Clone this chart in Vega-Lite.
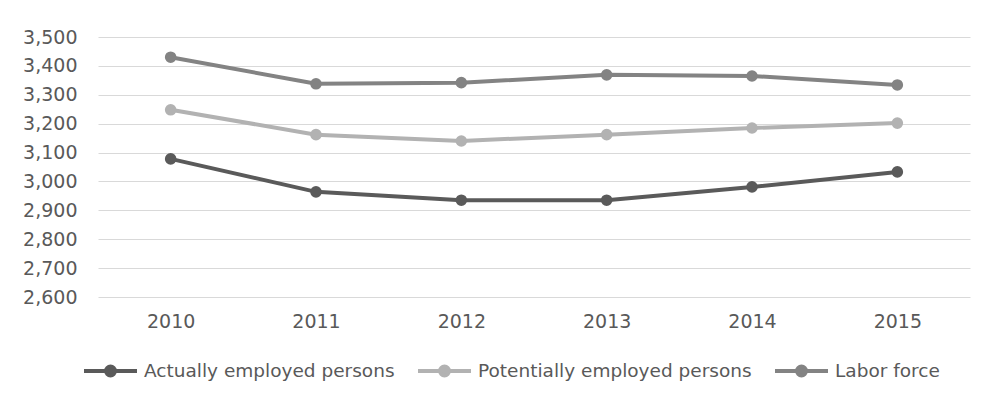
{
  "$schema": "https://vega.github.io/schema/vega-lite/v6.json",
  "autosize": "none",
  "width": 872,
  "height": 260,
  "padding": {"left": 98, "top": 37, "right": 14, "bottom": 97},
  "background": "white",
  "data": {"values": [
    {"year": "2010", "series": "Actually employed persons", "value": 3078},
    {"year": "2011", "series": "Actually employed persons", "value": 2964},
    {"year": "2012", "series": "Actually employed persons", "value": 2935},
    {"year": "2013", "series": "Actually employed persons", "value": 2935},
    {"year": "2014", "series": "Actually employed persons", "value": 2981},
    {"year": "2015", "series": "Actually employed persons", "value": 3033},
    {"year": "2010", "series": "Potentially employed persons", "value": 3248},
    {"year": "2011", "series": "Potentially employed persons", "value": 3162},
    {"year": "2012", "series": "Potentially employed persons", "value": 3140},
    {"year": "2013", "series": "Potentially employed persons", "value": 3162},
    {"year": "2014", "series": "Potentially employed persons", "value": 3185},
    {"year": "2015", "series": "Potentially employed persons", "value": 3202},
    {"year": "2010", "series": "Labor force", "value": 3430},
    {"year": "2011", "series": "Labor force", "value": 3338},
    {"year": "2012", "series": "Labor force", "value": 3342},
    {"year": "2013", "series": "Labor force", "value": 3369},
    {"year": "2014", "series": "Labor force", "value": 3365},
    {"year": "2015", "series": "Labor force", "value": 3334}
  ]},
  "mark": {"type": "line", "strokeWidth": 4, "point": {"filled": true, "size": 135, "opacity": 1}},
  "encoding": {
    "x": {"field": "year", "type": "ordinal", "scale": {"paddingInner": 0, "paddingOuter": 0.5},
      "axis": {"title": null, "labelAngle": 0, "ticks": false, "domain": false, "labelPadding": 15, "labelFont": "DejaVu Sans", "labelFontSize": 19, "labelColor": "#595959"}},
    "y": {"field": "value", "type": "quantitative", "scale": {"domain": [2600, 3500], "zero": false, "nice": false},
      "axis": {"title": null, "values": [2600, 2700, 2800, 2900, 3000, 3100, 3200, 3300, 3400, 3500], "format": ",.0f", "ticks": false, "domain": false, "labelPadding": 21, "labelFont": "DejaVu Sans", "labelFontSize": 19, "labelColor": "#595959", "gridColor": "#d9d9d9", "gridWidth": 1}},
    "color": {"field": "series", "type": "nominal",
      "scale": {"domain": ["Actually employed persons", "Potentially employed persons", "Labor force"], "range": ["#5a5a5a", "#b2b2b2", "#838383"]},
      "legend": {"title": null, "orient": "none", "legendX": -16, "legendY": 305, "direction": "horizontal", "padding": 0,
        "symbolType": "M-1,0L-0.17,0M0.17,0L1,0M-0.17,0A0.17,0.17,0,1,1,0.17,0A0.17,0.17,0,1,1,-0.17,0Z",
        "symbolSize": 2809, "symbolStrokeWidth": 4, "labelFont": "DejaVu Sans", "labelFontSize": 18.5, "labelColor": "#595959", "labelOffset": 5, "columnPadding": 15, "labelLimit": 400,
        "encode": {"symbols": {"update": {"fill": {"scale": "color", "field": "value"}, "stroke": {"scale": "color", "field": "value"}, "opacity": {"value": 1}}}}}}
  },
  "config": {"view": {"stroke": null}}
}
